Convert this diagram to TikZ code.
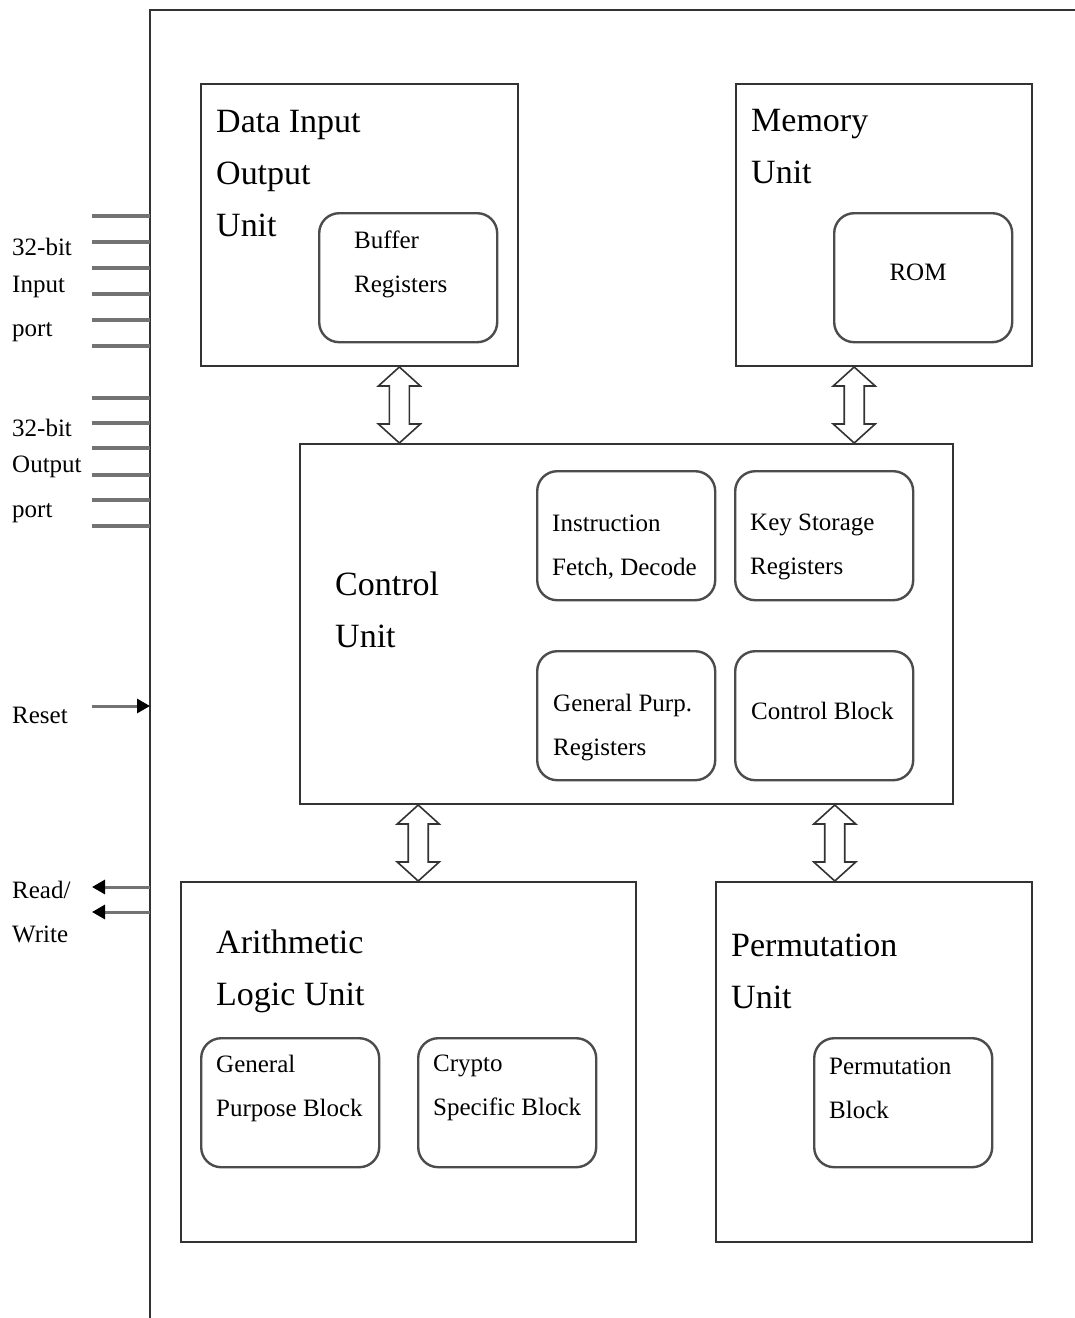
\documentclass[tikz,border=0pt]{standalone}
\usepackage{fontspec}
\setmainfont{Liberation Serif}
\usetikzlibrary{calc,arrows.meta}
\newcommand\bigfont{\fontsize{34}{52}\selectfont}
\newcommand\smallfont{\fontsize{25}{44}\selectfont}
% hollow double-headed bus arrow between two points on the same vertical
\newcommand\biarrow[2]{%
  \draw[busarrow] (#1) -- ($(#1)+(21,19)$) -- ($(#1)+(10,19)$)
    -- ($(#2)+(10,-19)$) -- ($(#2)+(21,-19)$) -- (#2)
    -- ($(#2)+(-21,-19)$) -- ($(#2)+(-10,-19)$)
    -- ($(#1)+(-10,19)$) -- ($(#1)+(-21,19)$) -- cycle;}
\begin{document}
\begin{tikzpicture}[x=1pt,y=-1pt,
  unitbox/.style={draw=black!80,line width=2pt,inner sep=0,anchor=north west},
  subbox/.style={draw=black!70,line width=2.4pt,rounded corners=20pt,inner sep=0,
    anchor=north west,minimum width=178pt,minimum height=129pt},
  biglabel/.style={font=\bigfont,align=left,anchor=west,inner sep=0},
  smalllabel/.style={font=\smallfont,align=left,anchor=west,inner sep=0},
  portlabel/.style={font=\smallfont,anchor=west,inner sep=0},
  frame/.style={draw=black!80,line width=2pt},
  portline/.style={draw=black!55,line width=3.5pt},
  sigline/.style={draw=black!55,line width=3pt,-{Triangle[color=black,length=13pt,width=14pt]}},
  busarrow/.style={draw=black!80,line width=1.6pt,fill=white,line join=miter}]
\useasboundingbox (0,0) rectangle (1075,1318);
\fill[white] (0,0) rectangle (1075,1318);

% chip outline
\draw[frame] (150,1318) -- (150,10) -- (1076,10);
\coordinate (fl) at (150,0);

% functional units
\node[unitbox,minimum width=317pt,minimum height=282pt] (dio) at (200,83) {};
\node[unitbox,minimum width=296pt,minimum height=282pt] (mem) at (735,83) {};
\node[unitbox,minimum width=653pt,minimum height=360pt] (cu)  at (299,443) {};
\node[unitbox,minimum width=455pt,minimum height=360pt] (alu) at (180,881) {};
\node[unitbox,minimum width=316pt,minimum height=360pt] (pu)  at (715,881) {};

% inner blocks
\node[subbox] (buf)  at (318,212) {};
\node[subbox] (rom)  at (833,212) {};
\node[subbox] (ifd)  at (536,470) {};
\node[subbox] (ksr)  at (734,470) {};
\node[subbox] (gpr)  at (536,650) {};
\node[subbox] (cb)   at (734,650) {};
\node[subbox] (gpb)  at (200,1037) {};
\node[subbox] (csb)  at (417,1037) {};
\node[subbox] (perm) at (813,1037) {};

% unit titles
\node[biglabel] (tdio) at (216,174) {Data Input\\Output\\Unit};
\node[biglabel] (tmem) at (751,147) {Memory\\Unit};
\node[biglabel] (tcu)  at (335,610) {Control\\Unit};
\node[biglabel] (talu) at (216,971) {Arithmetic\\Logic Unit};
\node[biglabel] (tpu)  at (731,971) {Permutation\\Unit};

% block titles
\node[smalllabel] (tbuf) at (354,264) {Buffer\\Registers};
\node[font=\smallfont,inner sep=0] (trom) at (918,272) {ROM};
\node[smalllabel] (tifd) at (552,547) {Instruction\\Fetch, Decode};
\node[smalllabel] (tksr) at (750,547) {Key Storage\\Registers};
\node[smalllabel] (tgpr) at (553,728) {General Purp.\\Registers};
\node[smalllabel] (tcb)  at (751,711) {Control Block};
\node[smalllabel] (tgpb) at (216,1088) {General\\Purpose Block};
\node[smalllabel] (tcsb) at (433,1088) {Crypto\\Specific Block};
\node[smalllabel] (tperm) at (829,1088) {Permutation\\Block};

% bus arrows between units
\coordinate (a1t) at ($(dio.south west)!0.625!(dio.south east)$);
\coordinate (a1b) at (a1t |- cu.north);
\coordinate (a2t) at ($(mem.south west)!0.4!(mem.south east)$);
\coordinate (a2b) at (a2t |- cu.north);
\coordinate (a3t) at ($(cu.south west)!0.182!(cu.south east)$);
\coordinate (a3b) at (a3t |- alu.north);
\coordinate (a4t) at ($(cu.south west)!0.818!(cu.south east)$);
\coordinate (a4b) at (a4t |- pu.north);
\biarrow{a1t}{a1b}
\biarrow{a2t}{a2b}
\biarrow{a3t}{a3b}
\biarrow{a4t}{a4b}

% 32-bit input and output ports
\foreach \y [count=\i] in {216,242,268,294,320,346} {
  \coordinate (in\i) at (92,\y);
  \draw[portline] (in\i) -- (in\i -| fl);
}
\foreach \y [count=\i] in {398,423,448,475,500,526} {
  \coordinate (out\i) at (92,\y);
  \draw[portline] (out\i) -- (out\i -| fl);
}
\node[portlabel] (lin1) at (12,247) {32-bit};
\node[portlabel] (lin2) at (12,287) {Input};
\node[portlabel] (lin3) at (12,332) {port};
\node[portlabel] (lout1) at (12,428) {32-bit};
\node[portlabel] (lout2) at (12,467) {Output};
\node[portlabel] (lout3) at (12,513) {port};

% control signals
\coordinate (rst) at (92,706);
\draw[sigline] (rst) -- (rst -| fl);
\node[portlabel] (lrst) at (12,715) {Reset};
\coordinate (rw1) at (92,887);
\coordinate (rw2) at (92,912);
\draw[sigline] (rw1 -| fl) -- (rw1);
\draw[sigline] (rw2 -| fl) -- (rw2);
\node[portlabel] (lrw1) at (12,890) {Read/};
\node[portlabel] (lrw2) at (12,934) {Write};
\end{tikzpicture}
\end{document}
